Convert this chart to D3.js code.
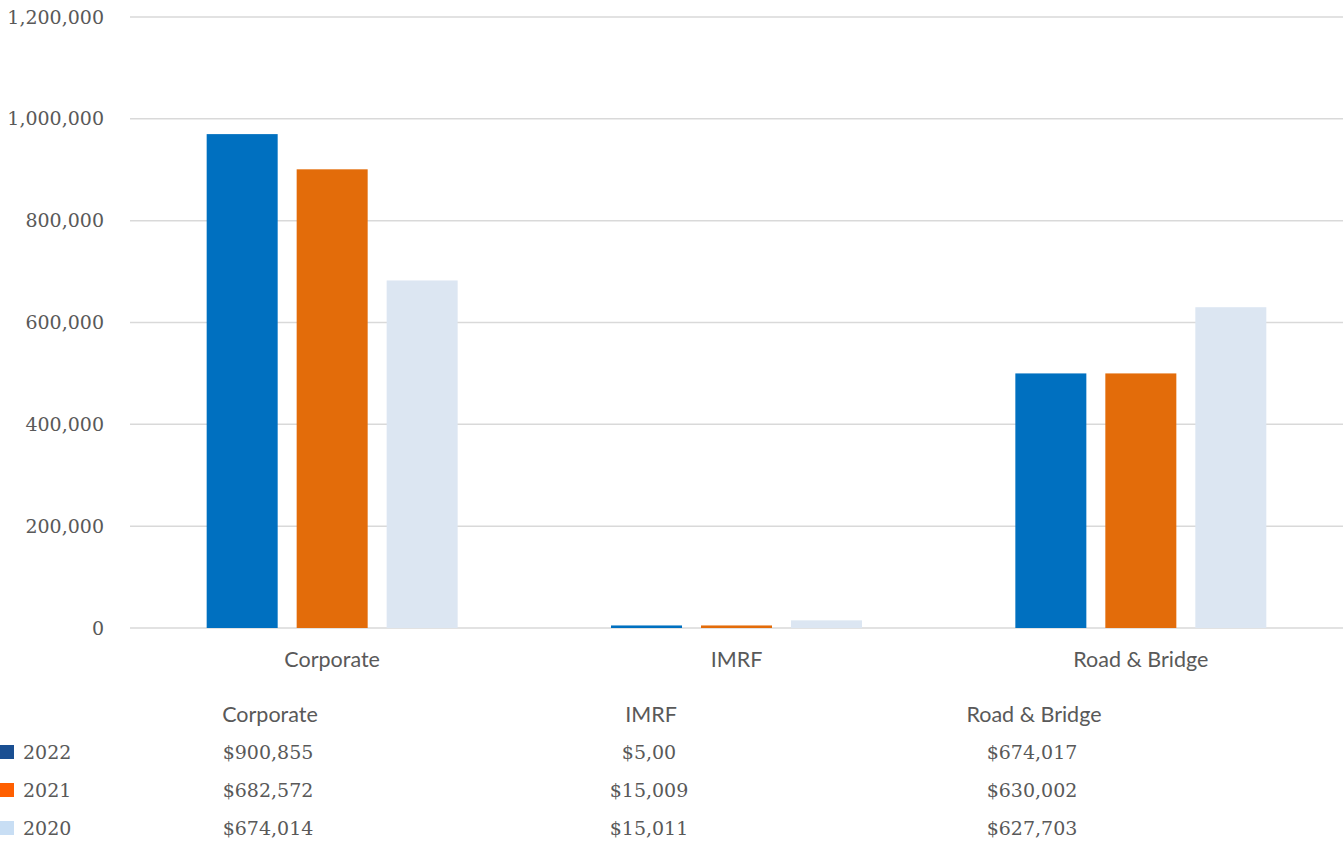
<!DOCTYPE html>
<html><head><meta charset="utf-8">
<script src="https://cdn.jsdelivr.net/npm/d3@7"></script>
<style>body{margin:0;background:#fff;}svg{display:block;}</style>
</head><body>
<svg id="c" width="1343" height="844"></svg>
<script>
const categories = ["Corporate", "IMRF", "Road & Bridge"];
const seriesNames = ["2022", "2021", "2020"];
const values2022 = [970000, 5000, 500000];
const values2021 = [900855, 5000, 500000];
const values2020 = [682572, 15011, 630002];
const yTicks = [0, 200000, 400000, 600000, 800000, 1000000, 1200000];
const table2022 = ["$900,855", "$5,00", "$674,017"];
const table2021 = ["$682,572", "$15,009", "$630,002"];
const table2020 = ["$674,014", "$15,011", "$627,703"];

(function(){
const barColors = ["#0070c0", "#e36c0a", "#dce6f2"];
const legendColors = ["#1a4f92", "#ff5f00", "#c8def4"];
const series = [values2022, values2021, values2020];
const tables = [table2022, table2021, table2020];

const svg = d3.select("#c");
const pLeft = 130, pRight = 1343, pTop = 17, pBottom = 628;
const serif = "'Palatino Linotype','Book Antiqua','DejaVu Serif','Liberation Serif',serif";
const sans = "Lato,'Open Sans','Noto Sans',sans-serif";
const textCol = "#595959";

const x = d3.scaleBand().domain(categories).range([pLeft, pRight]).paddingInner(0).paddingOuter(0);
const x1 = d3.scaleBand().domain(seriesNames).range([0, x.bandwidth()]).paddingInner(0.211).paddingOuter(0.852);
const y = d3.scaleLinear().domain([0, 1200000]).range([pBottom, pTop]);

svg.append("g").selectAll("line").data(yTicks).join("line")
  .attr("x1", pLeft).attr("x2", pRight)
  .attr("y1", d => y(d)).attr("y2", d => y(d))
  .attr("stroke", "#d9d9d9").attr("stroke-width", 1.5);

const yAxis = d3.axisLeft(y).tickValues(yTicks).tickFormat(d3.format(",")).tickSize(0).tickPadding(0);
const ya = svg.append("g").attr("transform", `translate(104,0)`).call(yAxis);
ya.select(".domain").remove();
ya.selectAll("text").attr("font-family", serif).attr("font-size", 19).attr("fill", textCol);

const g = svg.append("g");
categories.forEach((c, ci) => {
  seriesNames.forEach((s, si) => {
    const v = series[si][ci];
    g.append("rect")
      .attr("x", x(c) + x1(s)).attr("width", x1.bandwidth())
      .attr("y", y(v)).attr("height", y(0) - y(v))
      .attr("fill", barColors[si]);
  });
});

const xAxis = d3.axisBottom(x).tickSize(0).tickPadding(0);
const xa = svg.append("g").attr("transform", `translate(0,${pBottom + 31})`).call(xAxis);
xa.select(".domain").remove();
xa.selectAll("text").attr("font-family", sans).attr("font-size", 21.5).attr("fill", textCol).attr("dy", "0.35em");

const colX = [270, 651, 1034];
const headerY = 714;
const rowY = [752, 790, 828];
svg.append("g").selectAll("text").data(categories).join("text")
  .attr("x", (d, i) => colX[i]).attr("y", headerY).attr("dy", "0.35em")
  .attr("text-anchor", "middle").attr("font-family", sans).attr("font-size", 21.5)
  .attr("fill", textCol).text(d => d);

seriesNames.forEach((s, si) => {
  svg.append("rect").attr("x", 0).attr("y", rowY[si] - 7).attr("width", 14).attr("height", 14)
    .attr("fill", legendColors[si]);
  svg.append("text").attr("x", 23).attr("y", rowY[si]).attr("dy", "0.35em")
    .attr("font-family", serif).attr("font-size", 19).attr("fill", textCol).text(s);
  svg.append("g").selectAll("text").data(tables[si]).join("text")
    .attr("x", (d, i) => colX[i] - 2).attr("y", rowY[si]).attr("dy", "0.35em")
    .attr("text-anchor", "middle").attr("font-family", serif).attr("font-size", 19)
    .attr("fill", textCol).text(d => d);
});
})();
</script>
</body></html>
